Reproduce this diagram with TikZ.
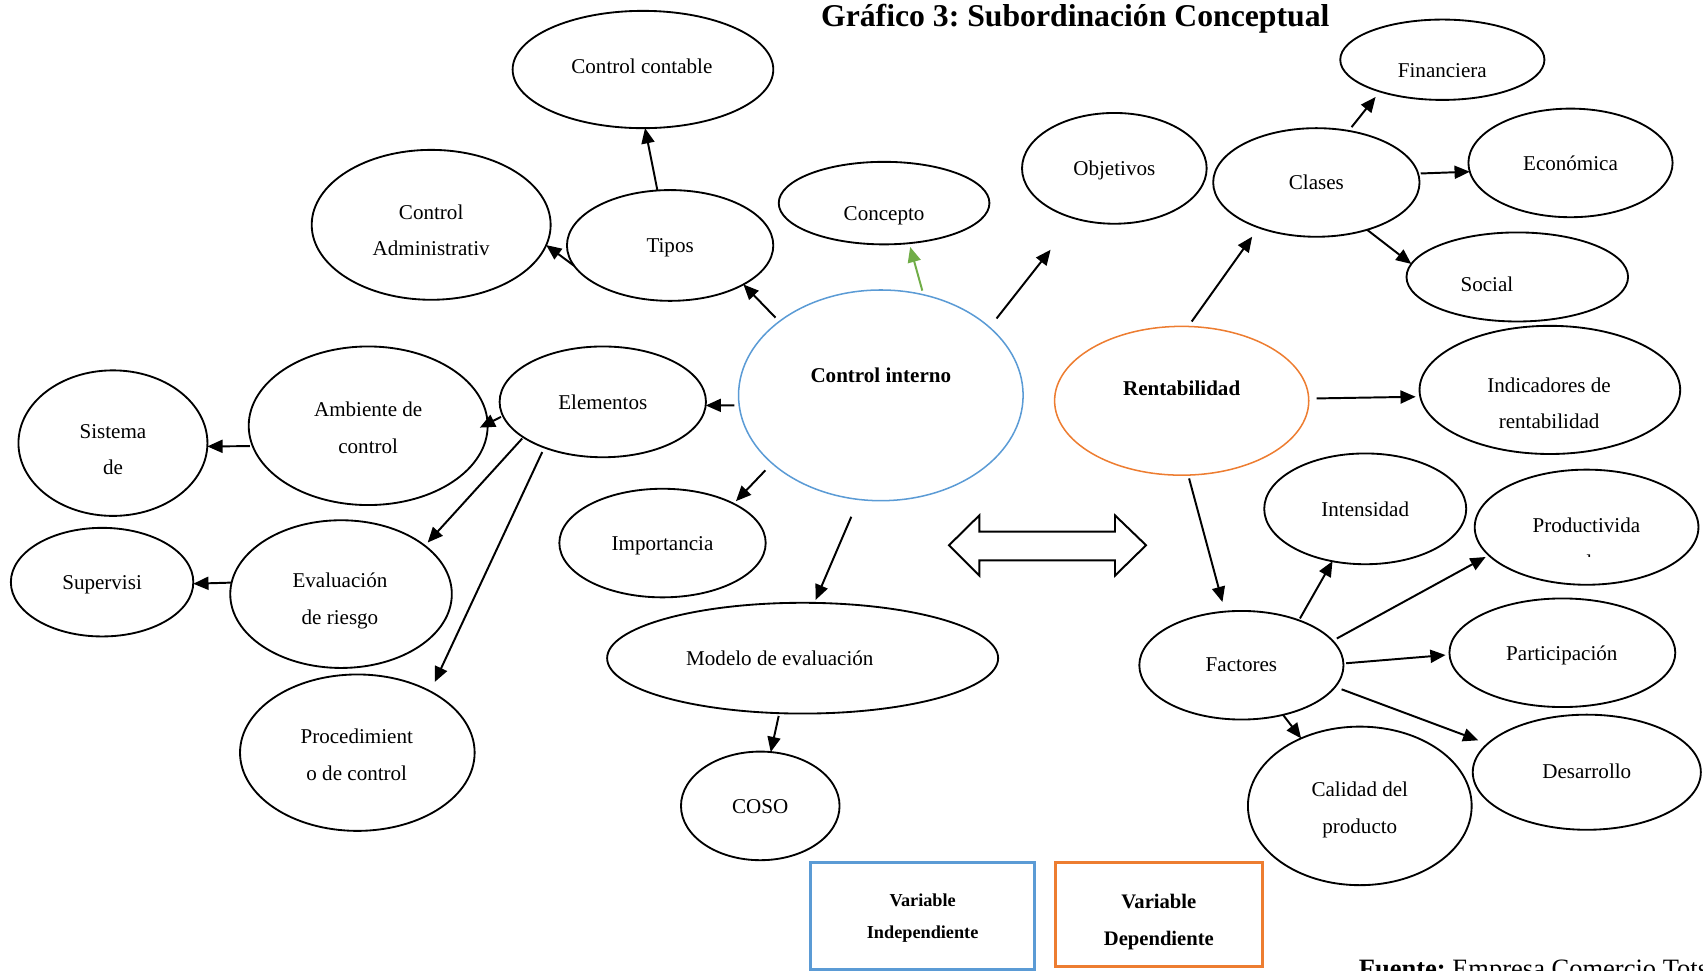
\documentclass[tikz,border=0pt]{standalone}
\usepackage{fontspec}
\setmainfont{Liberation Serif}
\usetikzlibrary{arrows.meta,shapes.geometric}
\frenchspacing

\definecolor{ivblue}{HTML}{5B9BD5}
\definecolor{dvorange}{HTML}{ED7D31}
\definecolor{arrgreen}{HTML}{70AD47}

\tikzset{
  ell/.style={ellipse, draw, line width=0.85pt, inner sep=0pt, outer sep=0pt},
  lbl/.style={inner sep=0pt, align=center, font=\fontsize{9.7}{17}\selectfont},
  one/.style={text height=7.6pt, text depth=1pt},
  boldlbl/.style={font=\fontsize{9.7}{17}\selectfont\bfseries},
  link/.style={line width=0.9pt, -{Triangle[length=7pt,width=6pt]}},
  legendbox/.style={draw, line width=1.4pt, inner sep=0pt},
}

% name, centre, half width, half height, label position, label, label style
\newcommand\concept[7]{%
  \node[ell, minimum width=#3pt, minimum height=#4pt] (#1) at (#2) {};
  \node[lbl,#7] (#1-t) at (#5) {#6};}

\begin{document}
\begin{tikzpicture}[x=0.5pt, y=-0.5pt]
\useasboundingbox (0,0) rectangle (1568,894);

% title
\node[anchor=base, inner sep=0pt, font=\fontsize{14.6}{17}\selectfont\bfseries] (title)
  at (990,24.7) {Gráfico 3: Subordinación Conceptual};

% independent variable
\node[ell, draw=ivblue, line width=0.7pt, minimum width=131pt, minimum height=97pt] (ci) at (811,364) {};
\node[lbl, one, boldlbl] (ci-t) at (811,346) {Control interno};

\concept{cc}{592,64}{120}{54}{591,61}{Control contable}{one}
\concept{ca}{397,207}{110}{69}{397,212}{Control\\Administrativ}{}
\concept{tip}{617,226}{95}{51}{617,226}{Tipos}{one}
\concept{con}{814,187}{97}{38}{814,196.5}{Concepto}{one}
\concept{obj}{1026,155}{85}{51}{1026,155}{Objetivos}{one}
\concept{ele}{555,370}{95}{51}{555,370}{Elementos}{one}
\concept{amb}{339,392}{110}{73}{339,394}{Ambiente de\\control}{}
\concept{sis}{104,408}{87}{67}{104,414}{Sistema\\de}{}
\concept{sup}{94,536}{84}{50}{94,536}{Supervisi}{one}
\concept{eva}{314,547}{102}{68}{313,553.5}{Evaluación\\de riesgo}{}
\concept{pro}{329,693}{108}{72}{328.5,695}{Procedimient\\o de control}{}
\concept{imp}{610,500}{95}{50}{610,500}{Importancia}{one}
\concept{mod}{739,606}{180}{51}{718,606}{Modelo de evaluación}{one}
\concept{cos}{700,742}{73}{50}{700,742}{COSO}{one}

% dependent variable
\node[ell, draw=dvorange, line width=0.7pt, minimum width=117pt, minimum height=68.5pt] (ren) at (1088,369) {};
\node[lbl, one, boldlbl] (ren-t) at (1088,357.5) {Rentabilidad};

\concept{cla}{1212,168}{95}{50}{1212,168}{Clases}{one}
\concept{fin}{1328,55}{94}{37}{1328,65}{Financiera}{one}
\concept{eco}{1446,150}{94}{50}{1446,150}{Económica}{one}
\concept{soc}{1397,255}{102}{41}{1369,261.5}{Social}{one}
\concept{int}{1257,468.5}{93}{51}{1257,469}{Intensidad}{one}
\concept{fac}{1143,612.5}{94}{50}{1143,612}{Factores}{one}
\concept{par}{1438.5,601}{104}{50}{1438,601.5}{Participación}{one}
\concept{des}{1461,711}{105}{53}{1461,710}{Desarrollo}{one}
\concept{cal}{1252,742}{103}{73}{1252,745.5}{Calidad del\\producto}{}

% ellipses whose text runs past its frame
\node[ell, minimum width=120pt, minimum height=59pt] (ind) at (1427,359) {};
\begin{scope}
  \clip (1300,330) rectangle (1550,394.4);
  \node[lbl] (ind-t) at (1426.3,371.3) {Indicadores de\\rentabilidad};
\end{scope}
\node[ell, minimum width=103pt, minimum height=53pt] (prd) at (1460.8,485.4) {};
\begin{scope}
  \clip (1360,440) rectangle (1560,512);
  \node[lbl] (prd-t) at (1460.6,501) {Productivida\\d};
\end{scope}

% connectors
\draw[link] (tip.103) -- (cc.-88);
\draw[link] (tip.192) -- (ca.-10);
\draw[link, shorten <=2.5pt] (ci.144) -- (tip.-28);
\draw[link, color=arrgreen, shorten <=2pt, shorten >=1.8pt] (ci.67) -- (con.-58);
\draw[link, shorten <=5.2pt, shorten >=18.3pt] (ci.32) -- (obj.-128);
\draw[link, shorten <=2.2pt] (ci.184) -- (ele.-2);
\draw[link, shorten <=1pt, shorten >=-4pt] (ele.188) -- (amb.1);
\draw[link, shorten <=1.3pt] (amb.190) -- (sis.-2);
\draw[link, shorten <=0.8pt, shorten >=2pt] (ele.204) -- (eva.30);
\draw[link, shorten <=2.3pt, shorten >=4.8pt] (ele.218) -- (pro.40);
\draw[link] (eva.174) -- (sup.-1);
\draw[link, shorten <=4.5pt, shorten >=1.6pt] (ci.212) -- (imp.29);
\draw[link, shorten <=8.7pt, shorten >=1.5pt] (ci.258) -- (mod.78);
\draw[link, shorten <=1.3pt] (mod.247) -- (cos.79);
\draw[link, shorten <=2.8pt, shorten >=5.2pt] (ren.85) -- (cla.218);
\draw[link, shorten <=2.2pt, shorten >=3.2pt] (cla.58) -- (fin.207);
\draw[link, shorten <=1.2pt] (cla.5) -- (eco.185);
\draw[link] (cla.-43) -- (soc.173);
\draw[link, shorten <=3.6pt, shorten >=2.1pt] (ren.1) -- (ind.183);
\draw[link, shorten <=1.6pt, shorten >=4.6pt] (ren.-85) -- (fac.107);
\draw[link, shorten <=1pt] (fac.38) -- (int.238);
\draw[link, shorten <=2.2pt, shorten >=1.7pt] (fac.15) -- (prd.196);
\draw[link, shorten <=1.2pt, shorten >=1.8pt] (fac.1) -- (par.181);
\draw[link, shorten <=3.2pt, shorten >=4.6pt] (fac.-13) -- (des.164);
\draw[link] (fac.-50) -- (cal.131);

% two-way block arrow between the variables
\draw[line width=0.9pt, miter limit=10]
  (873.8,502) -- (901.7,474.5) -- (901.7,489.5) -- (1026.6,489.5) -- (1026.6,474.5)
  -- (1055.2,502) -- (1026.6,530) -- (1026.6,516) -- (901.7,516) -- (901.7,530) -- cycle;

% legend
\node[legendbox, draw=ivblue, minimum width=103pt, minimum height=49pt] (vi) at (849.5,843.5) {};
\node[lbl, font=\fontsize{8.4}{14.6}\selectfont\bfseries] (vi-t) at (849.5,845.2) {Variable\\Independiente};
\node[legendbox, draw=dvorange, minimum width=95.5pt, minimum height=47.5pt] (vd) at (1067,842) {};
\node[lbl, font=\fontsize{9.5}{16.9}\selectfont\bfseries] (vd-t) at (1067,849.2) {Variable\\Dependiente};

% source line
\begin{scope}
  \clip (0,0) rectangle (1568,894);
  \node[anchor=base west, inner sep=0pt, font=\fontsize{12.2}{14}\selectfont] (src)
    at (1250.7,900) {\textbf{Fuente:} Empresa Comercio Tots};
\end{scope}
\end{tikzpicture}
\end{document}
